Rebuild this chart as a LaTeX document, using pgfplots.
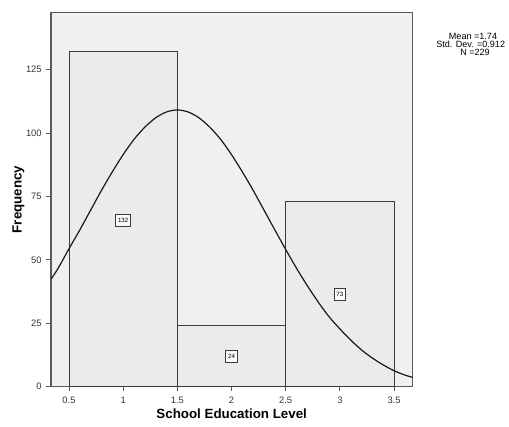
\documentclass[border=0pt]{standalone}
\usepackage{fontspec}
\setmainfont{Liberation Sans}
\usepackage{pgfplots}
\pgfplotsset{compat=1.18}
\definecolor{bgc}{HTML}{F0F0F0}
\definecolor{barc}{HTML}{EBEBEB}
\definecolor{edgec}{HTML}{3C3C3C}
\definecolor{framec}{HTML}{5A5A5A}
\begin{document}
\begin{tikzpicture}
\begin{axis}[
  scale only axis,
  width=271pt, height=280.8pt,
  xmin=0.334, xmax=3.669, ymin=0, ymax=147.6,
  axis background/.style={fill=bgc},
  axis line style={framec, line width=0.8pt},
  xtick={0.5,1,1.5,2,2.5,3,3.5},
  xticklabels={0.5,1,1.5,2,2.5,3,3.5},
  ytick={0,25,50,75,100,125},
  tick align=outside, tick pos=left,
  major tick length=3.5pt,
  tick style={framec, line width=0.6pt},
  /pgf/number format/assume math mode=true,
  tick label style={font=\fontsize{7}{8}\selectfont, text=black!80},
  xticklabel style={yshift=-1pt},
  every axis x label/.style={at={(axis description cs:0.5,-0.072)}, anchor=center},
  every axis y label/.style={at={(axis description cs:-0.0905,0.5)}, rotate=90, anchor=center},
  label style={font=\fontsize{10}{12}\selectfont\bfseries},
  xlabel={School Education Level},
  ylabel={Frequency},
  clip=true,
]
\addplot[ybar interval, fill=barc, draw=edgec, line width=0.7pt] coordinates {
  (0.5,132) (1.5,24) (2.5,73) (3.5,73)
};
\addplot[black!90, line width=0.9pt, smooth] coordinates {
  (0.334,42.4) (0.4,46.7) (0.5,54.4) (0.6,61.8) (0.7,69.6) (0.8,77.4) (0.9,84.7)
  (1.0,91.5) (1.1,97.5) (1.2,102.3) (1.3,106.0) (1.4,108.3) (1.5,109.1)
  (1.6,108.3) (1.7,106.0) (1.8,102.3) (1.9,97.5) (2.0,91.5) (2.1,84.7)
  (2.2,77.4) (2.3,69.6) (2.4,61.8) (2.5,54.1) (2.6,46.7) (2.7,39.8)
  (2.8,33.4) (2.9,27.6) (3.0,22.8) (3.1,18.4) (3.2,14.5) (3.3,11.3)
  (3.4,8.6) (3.5,6.3) (3.6,4.6) (3.669,3.7)
};
\addplot[draw=none, mark=none, point meta=explicit symbolic,
  nodes near coords, nodes near coords align=center,
  every node near coord/.style={anchor=center, draw=edgec, fill=white!60!bgc, line width=0.6pt,
    inner xsep=1.9pt, inner ysep=0pt, minimum height=9pt, font=\fontsize{4.6}{5}\selectfont}]
  coordinates {(1,65.7) [132] (2,11.8) [24] (3,36.4) [73]};
\end{axis}
\node[anchor=base, font=\fontsize{6.8}{7}\selectfont, inner sep=0pt] at (316.5pt,260.5pt) {Mean =1.74};
\node[anchor=base west, font=\fontsize{6.8}{7}\selectfont, inner sep=0pt] at (288.75pt,254.5pt) {Std. Dev. =0.912};
\node[anchor=base, font=\fontsize{6.8}{7}\selectfont, inner sep=0pt] at (318pt,248.5pt) {N =229};
\pgfresetboundingbox
\useasboundingbox (-38.25pt,-30.225pt) rectangle (343.5pt,290.025pt);
\end{tikzpicture}
\end{document}
